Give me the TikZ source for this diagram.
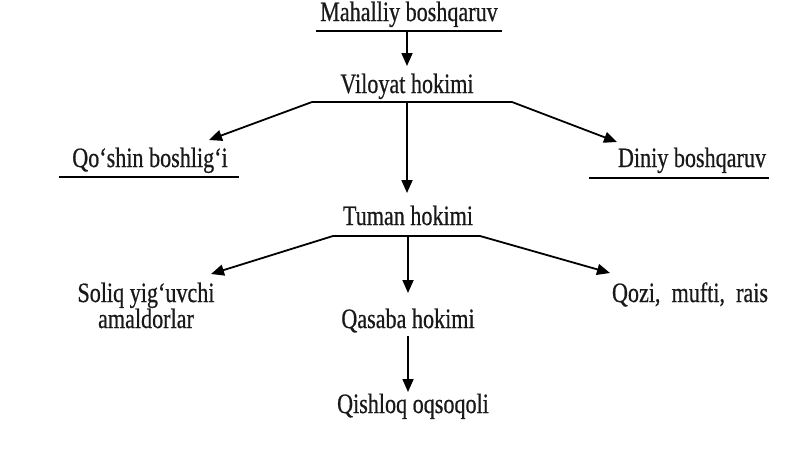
\documentclass[tikz,border=0pt]{standalone}
\usepackage{fontspec}
\setmainfont{Liberation Serif}[FakeStretch=0.79, FakeBold=0.6]
\usetikzlibrary{arrows.meta}
\begin{document}
\begin{tikzpicture}[x=1pt, y=-1pt,
  lbl/.style={inner sep=0pt, anchor=base, font=\fontsize{28}{26}\selectfont, text=black!90},
  arr/.style={line width=1.8pt, -{Triangle[length=13pt,width=11pt]}},
  bar/.style={line width=2.4pt}]
\useasboundingbox (0,0) rectangle (800,450);
\node[lbl] (mahalliy) at (409,21) {Mahalliy boshqaruv};
\node[lbl] (viloyat) at (407,93) {Viloyat hokimi};
\node[lbl] (qoshin) at (150,167) {Qo‘shin boshlig‘i};
\node[lbl] (diniy) at (692,167) {Diniy boshqaruv};
\node[lbl] (tuman) at (408,225) {Tuman hokimi};
\node[lbl, align=center] (soliq) at (146,328) {Soliq yig‘uvchi\\amaldorlar};
\node[lbl] (qasaba) at (408,328) {Qasaba hokimi};
\node[lbl] (qozi) at (690,302) {Qozi,\ \ mufti,\ \ rais};
\node[lbl] (qishloq) at (413,413) {Qishloq oqsoqoli};
% underlines and branch points
\coordinate (mah-l) at (316,31);
\coordinate (mah-r) at (502,31);
\coordinate (mah-m) at (407,31);
\coordinate (vil-l) at (312,102);
\coordinate (vil-r) at (512,102);
\coordinate (vil-m) at (407,102);
\coordinate (qos-l) at (59,177);
\coordinate (qos-r) at (239,177);
\coordinate (din-l) at (589,178);
\coordinate (din-r) at (769,178);
\coordinate (tum-l) at (333,236);
\coordinate (tum-r) at (480,236);
\coordinate (tum-m) at (408,236);
\coordinate (qas-m) at (408,336);
% arrow tips
\coordinate (to-viloyat) at (407,66);
\coordinate (to-qoshin) at (209,140);
\coordinate (to-diniy) at (617,142);
\coordinate (to-tuman) at (407,193);
\coordinate (to-soliq) at (211,274);
\coordinate (to-qasaba) at (408,293);
\coordinate (to-qozi) at (610,273);
\coordinate (to-qishloq) at (408,392);
\draw[bar] (mah-l) -- (mah-r);
\draw[bar] (vil-l) -- (vil-r);
\draw[bar] (qos-l) -- (qos-r);
\draw[bar] (din-l) -- (din-r);
\draw[bar] (tum-l) -- (tum-r);
\draw[arr] (mah-m) -- (to-viloyat);
\draw[arr] (vil-l) -- (to-qoshin);
\draw[arr] (vil-r) -- (to-diniy);
\draw[arr] (vil-m) -- (to-tuman);
\draw[arr] (tum-l) -- (to-soliq);
\draw[arr] (tum-m) -- (to-qasaba);
\draw[arr] (tum-r) -- (to-qozi);
\draw[arr] (qas-m) -- (to-qishloq);
\end{tikzpicture}
\end{document}
